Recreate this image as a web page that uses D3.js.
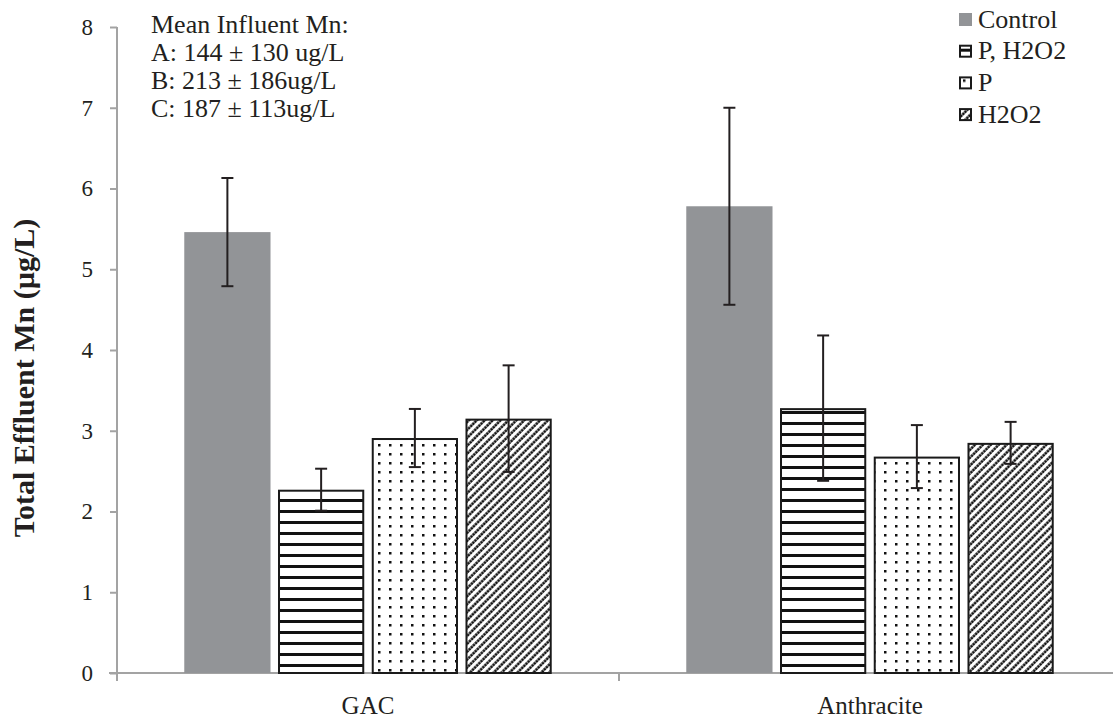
<!DOCTYPE html>
<html>
<head>
<meta charset="utf-8">
<script src="https://cdn.jsdelivr.net/npm/d3@7/dist/d3.min.js"></script>
<style>
  html, body { margin: 0; padding: 0; background: #fff; }
  svg { display: block; font-family: "Liberation Serif", "Times New Roman", serif; }
</style>
</head>
<body>
<svg id="chart" width="1113" height="719"></svg>
<script>
// Media and treatments
const media = ["GAC", "Anthracite"];
const treatments = ["Control", "P, H2O2", "P", "H2O2"];

// Mean total effluent Mn (µg/L) per treatment, one entry per medium
const controlMean = [5.46, 5.78];
const pH2o2Mean   = [2.27, 3.28];
const pMean       = [2.91, 2.68];
const h2o2Mean    = [3.15, 2.85];

// Error bar half-widths (µg/L)
const controlErr = [0.67, 1.22];
const pH2o2Err   = [0.26, 0.90];
const pErr       = [0.36, 0.39];
const h2o2Err    = [0.66, 0.26];

const yTicks = [0, 1, 2, 3, 4, 5, 6, 7, 8];

const noteLines = [
  "Mean Influent Mn:",
  "A: 144 \u00b1 130 ug/L",
  "B: 213 \u00b1 186ug/L",
  "C: 187 \u00b1 113ug/L"
];

const means = [controlMean, pH2o2Mean, pMean, h2o2Mean];
const errs  = [controlErr, pH2o2Err, pErr, h2o2Err];

const rows = [];
media.forEach((m, i) => {
  treatments.forEach((t, j) => {
    rows.push({ medium: m, treatment: t, idx: j, value: means[j][i], err: errs[j][i] });
  });
});

const svg = d3.select("#chart");
const plotLeft = 117, plotRight = 1121, plotTop = 27, plotBottom = 673;
const ink = "#231f20";

const x0 = d3.scaleBand().domain(media).range([plotLeft, plotRight]).padding(0);
const bw = x0.bandwidth();
const x1 = d3.scaleBand().domain(treatments)
  .range([bw * 0.134, bw * 0.866]).paddingInner(0.08).paddingOuter(0);
const y = d3.scaleLinear().domain([0, 8]).range([plotBottom, plotTop]);

// Fill patterns
const defs = svg.append("defs");
const stripes = defs.append("pattern").attr("id", "pat-stripes")
  .attr("patternUnits", "userSpaceOnUse").attr("width", 8).attr("height", 11);
stripes.append("rect").attr("width", 8).attr("height", 11).attr("fill", "#fff");
stripes.append("rect").attr("y", 4).attr("width", 8).attr("height", 3).attr("fill", "#111");

const dots = defs.append("pattern").attr("id", "pat-dots")
  .attr("patternUnits", "userSpaceOnUse").attr("width", 11).attr("height", 9);
dots.append("rect").attr("width", 11).attr("height", 9).attr("fill", "#fff");
dots.append("rect").attr("x", 4).attr("y", 3).attr("width", 2.5).attr("height", 2.5).attr("fill", "#111");

const hatch = defs.append("pattern").attr("id", "pat-hatch")
  .attr("patternUnits", "userSpaceOnUse").attr("width", 5.6).attr("height", 6)
  .attr("patternTransform", "rotate(45)");
hatch.append("rect").attr("width", 5.6).attr("height", 6).attr("fill", "#fff");
hatch.append("line").attr("x1", 1.5).attr("y1", 0).attr("x2", 1.5).attr("y2", 6)
  .attr("stroke", "#111").attr("stroke-width", 2.5).attr("stroke-dasharray", "2.4 0.6");

const fills = ["#929497", "url(#pat-stripes)", "url(#pat-dots)", "url(#pat-hatch)"];

// Axes
const axisColor = "#a3a3a3";
const yAxis = svg.append("g").attr("transform", `translate(${plotLeft},0)`)
  .call(d3.axisLeft(y).tickValues(yTicks).tickSize(7).tickPadding(17).tickFormat(d3.format("d")));
yAxis.select(".domain").attr("stroke", axisColor).attr("stroke-width", 2)
  .attr("d", `M0,${plotTop}H0V${plotBottom + 8}`);
yAxis.selectAll(".tick line").attr("stroke", axisColor).attr("stroke-width", 2);
yAxis.selectAll(".tick text").attr("font-size", 23).attr("fill", ink)
  .attr("font-family", "Liberation Serif, serif");

const xAxis = svg.append("g").attr("transform", `translate(0,${plotBottom})`)
  .call(d3.axisBottom(x0).tickSize(0).tickPadding(23));
xAxis.select(".domain").attr("stroke", axisColor).attr("stroke-width", 2)
  .attr("d", `M${plotLeft - 8},0H${plotRight}`);
xAxis.selectAll(".tick text").attr("font-size", 25).attr("fill", ink)
  .attr("font-family", "Liberation Serif, serif");
// Category separators
svg.append("g").selectAll("line").data(media.slice(1)).join("line")
  .attr("x1", d => x0(d)).attr("x2", d => x0(d))
  .attr("y1", plotBottom).attr("y2", plotBottom + 8)
  .attr("stroke", axisColor).attr("stroke-width", 2);

// Bars
svg.append("g").selectAll("rect").data(rows).join("rect")
  .attr("x", d => x0(d.medium) + x1(d.treatment) + (d.idx ? 1 : 0))
  .attr("y", d => y(d.value) + (d.idx ? 1 : 0))
  .attr("width", d => x1.bandwidth() - (d.idx ? 2 : 0))
  .attr("height", d => y(0) - y(d.value) - (d.idx ? 1 : 0))
  .attr("fill", d => fills[d.idx])
  .attr("stroke", d => d.idx ? "#1a1a1a" : "none")
  .attr("stroke-width", 2);

// Error bars
const eb = svg.append("g").attr("stroke", ink).attr("stroke-width", 2);
rows.forEach(d => {
  const cx = x0(d.medium) + x1(d.treatment) + x1.bandwidth() / 2;
  const y1 = y(d.value + d.err), y2 = y(d.value - d.err);
  eb.append("line").attr("x1", cx).attr("x2", cx).attr("y1", y1).attr("y2", y2);
  eb.append("line").attr("x1", cx - 6).attr("x2", cx + 6).attr("y1", y1).attr("y2", y1);
  eb.append("line").attr("x1", cx - 6).attr("x2", cx + 6).attr("y1", y2).attr("y2", y2);
});

// Y axis title
svg.append("text")
  .attr("transform", `translate(34,378) rotate(-90)`)
  .attr("text-anchor", "middle").attr("font-weight", "bold").attr("font-size", 30)
  .attr("fill", ink).text("Total Effluent Mn (\u00b5g/L)");

// Influent note
svg.append("g").selectAll("text").data(noteLines).join("text")
  .attr("x", 151).attr("y", (d, i) => 33 + i * 28)
  .attr("font-size", 26).attr("fill", ink).text(d => d);

// Legend
const legend = svg.append("g").selectAll("g").data(treatments).join("g")
  .attr("transform", (d, i) => `translate(959,${13 + i * 31.7})`);
legend.append("rect")
  .attr("x", (d, i) => i ? 1 : 0).attr("y", (d, i) => i ? 1 : 0)
  .attr("width", (d, i) => i ? 11 : 13).attr("height", (d, i) => i ? 11 : 13)
  .attr("fill", (d, i) => fills[i])
  .attr("stroke", (d, i) => i ? "#1a1a1a" : "none").attr("stroke-width", 2);
legend.append("text").attr("x", 19).attr("y", 14.5)
  .attr("font-size", 26).attr("fill", ink).text(d => d);
</script>
</body>
</html>
